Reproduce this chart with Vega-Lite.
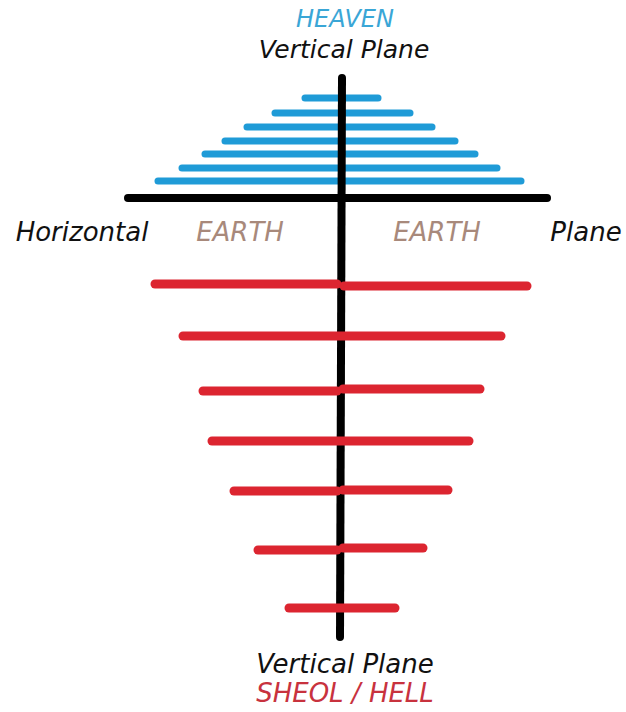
{
  "$schema": "https://vega.github.io/schema/vega-lite/v6.json",
  "width": 626,
  "height": 712,
  "autosize": {"type": "fit", "contains": "padding"},
  "padding": 0,
  "background": "white",
  "config": {"view": {"stroke": null}},
  "datasets": {
    "lines": [
      {"kind": "heaven", "x": 305, "x2": 378, "y": 98, "y2": 98},
      {"kind": "heaven", "x": 275, "x2": 410, "y": 113, "y2": 113},
      {"kind": "heaven", "x": 247, "x2": 432, "y": 127, "y2": 127},
      {"kind": "heaven", "x": 225, "x2": 455, "y": 141, "y2": 141},
      {"kind": "heaven", "x": 205, "x2": 475, "y": 154, "y2": 154},
      {"kind": "heaven", "x": 182, "x2": 497, "y": 168, "y2": 168},
      {"kind": "heaven", "x": 158, "x2": 521, "y": 181, "y2": 181},
      {"kind": "plane", "x": 128, "x2": 547, "y": 198, "y2": 198},
      {"kind": "plane", "x": 342, "x2": 340, "y": 78, "y2": 637},
      {"kind": "hell", "x": 155, "x2": 337, "y": 284, "y2": 284},
      {"kind": "hell", "x": 344, "x2": 527, "y": 286, "y2": 286},
      {"kind": "hell", "x": 183, "x2": 501, "y": 336, "y2": 336},
      {"kind": "hell", "x": 203, "x2": 337, "y": 391, "y2": 391},
      {"kind": "hell", "x": 343, "x2": 480, "y": 389, "y2": 389},
      {"kind": "hell", "x": 212, "x2": 469, "y": 441, "y2": 441},
      {"kind": "hell", "x": 234, "x2": 337, "y": 491, "y2": 491},
      {"kind": "hell", "x": 343, "x2": 448, "y": 490, "y2": 490},
      {"kind": "hell", "x": 258, "x2": 337, "y": 550, "y2": 550},
      {"kind": "hell", "x": 343, "x2": 423, "y": 548, "y2": 548},
      {"kind": "hell", "x": 289, "x2": 395, "y": 608, "y2": 608}
    ],
    "labels": [
      {"label": "HEAVEN", "x": 345, "y": 27, "kind": "heaven", "size": 24},
      {"label": "Vertical Plane", "x": 344, "y": 58, "kind": "plane", "size": 25},
      {"label": "Horizontal", "x": 82, "y": 241, "kind": "plane", "size": 26},
      {"label": "EARTH", "x": 240, "y": 241, "kind": "earth", "size": 26},
      {"label": "EARTH", "x": 437, "y": 241, "kind": "earth", "size": 26},
      {"label": "Plane", "x": 586, "y": 241, "kind": "plane", "size": 26},
      {"label": "Vertical Plane", "x": 345, "y": 673, "kind": "plane", "size": 26},
      {"label": "SHEOL / HELL", "x": 345, "y": 702, "kind": "hell", "size": 26}
    ]
  },
  "layer": [
    {
      "data": {"name": "lines"},
      "mark": {"type": "rule", "strokeCap": "round"},
      "encoding": {
        "x": {"field": "x", "type": "quantitative", "scale": {"domain": [0, 626], "nice": false, "zero": false}, "axis": null},
        "x2": {"field": "x2"},
        "y": {"field": "y", "type": "quantitative", "scale": {"domain": [0, 712], "nice": false, "zero": false, "reverse": true}, "axis": null},
        "y2": {"field": "y2"},
        "color": {"field": "kind", "type": "nominal", "scale": {"domain": ["heaven", "plane", "hell", "earth"], "range": ["#1f9bd7", "#000000", "#dc2530", "#a8897b"]}, "legend": null},
        "strokeWidth": {"field": "kind", "type": "nominal", "scale": {"domain": ["heaven", "plane", "hell"], "range": [7, 9, 5.5]}, "legend": null}
      }
    },
    {
      "data": {"name": "labels"},
      "mark": {"type": "text", "font": "DejaVu Sans", "fontStyle": "italic", "align": "center", "baseline": "alphabetic"},
      "encoding": {
        "x": {"field": "x", "type": "quantitative"},
        "y": {"field": "y", "type": "quantitative"},
        "text": {"field": "label"},
        "size": {"field": "size", "type": "quantitative", "scale": null},
        "color": {"field": "kind", "type": "nominal", "scale": {"domain": ["heaven", "plane", "hell", "earth"], "range": ["#3aa6d6", "#111111", "#c8323e", "#a8897b"]}, "legend": null}
      }
    }
  ],
  "resolve": {"scale": {"color": "independent"}}
}
